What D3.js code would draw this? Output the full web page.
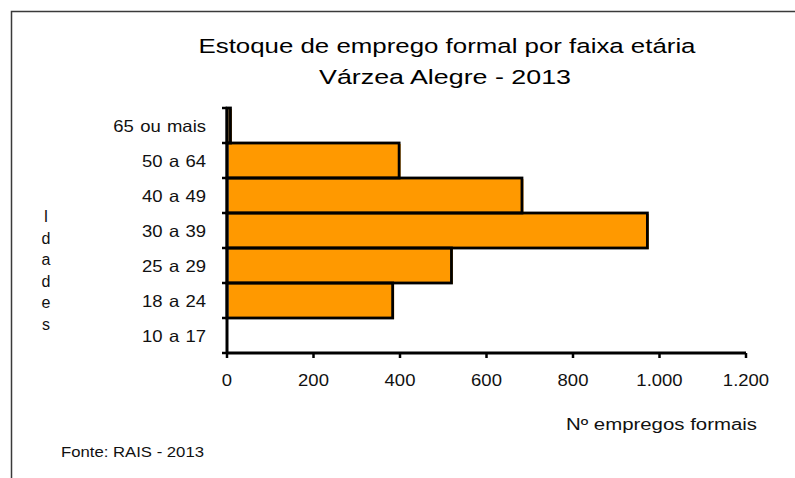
<!DOCTYPE html>
<html>
<head>
<meta charset="utf-8">
<script src="https://cdn.jsdelivr.net/npm/d3@7"></script>
<style>
  body { margin: 0; background: #fff; }
  svg { font-family: "Liberation Sans", Arial, sans-serif; }
</style>
</head>
<body>
<div id="chart"></div>
<script>
// faixas etárias, de cima para baixo
var faixas = ["65 ou mais", "50 a 64", "40 a 49", "30 a 39", "25 a 29", "18 a 24", "10 a 17"];
var empregos = [8, 398, 682, 972, 519, 383, 0];
var xTicks = [0, 200, 400, 600, 800, 1000, 1200];
var titulo = ["Estoque de emprego formal por faixa etária", "Várzea Alegre  - 2013"];
var eixoY = "Idades";
var eixoX = "Nº empregos formais";
var fonte = "Fonte: RAIS - 2013";

var width = 795, height = 478;
var plot = {left: 227, right: 746, top: 108, bottom: 353};

var svg = d3.select("#chart").append("svg")
    .attr("width", width)
    .attr("height", height);

// o texto do original é mais largo que a Liberation: estica na horizontal
function stretch(sel, k) {
    sel.each(function() {
        var w = this.getComputedTextLength();
        d3.select(this).attr("textLength", w * k).attr("lengthAdjust", "spacingAndGlyphs");
    });
}

// moldura (só topo e esquerda aparecem)
svg.append("path")
    .attr("d", "M11.5," + height + "V11.5H" + width)
    .attr("fill", "none")
    .attr("stroke", "#3a3a3a")
    .attr("stroke-width", 1.5);

var pt = d3.formatLocale({decimal: ",", thousands: ".", grouping: [3], currency: ["R$", ""]});
var fmt = pt.format(",.0f");

var x = d3.scaleLinear().domain([0, 1200]).range([plot.left, plot.right]);
var y = d3.scaleBand().domain(faixas).range([plot.top, plot.bottom]).padding(0);

var data = faixas.map(function(f, i) { return {faixa: f, valor: empregos[i]}; });
var comValor = data.filter(function(d) { return d.valor > 0; });

// barras: sombra laranja deslocada + contorno preto
var bars = svg.append("g").attr("class", "bars");
bars.selectAll(".fill").data(comValor).enter()
    .append("rect")
    .attr("class", "fill")
    .attr("x", x(0) + 1.5)
    .attr("y", function(d) { return y(d.faixa) + 1; })
    .attr("width", function(d) { return x(d.valor) - x(0); })
    .attr("height", y.bandwidth())
    .attr("fill", "#FF9900");
bars.selectAll(".edge").data(comValor).enter()
    .append("rect")
    .attr("class", "edge")
    .attr("x", x(0))
    .attr("y", function(d) { return y(d.faixa); })
    .attr("width", function(d) { return x(d.valor) - x(0); })
    .attr("height", y.bandwidth())
    .attr("fill", "none")
    .attr("stroke", "#000")
    .attr("stroke-width", 2.8);

// eixo Y: linha e ticks nas fronteiras das faixas
var yAxis = svg.append("g").attr("class", "y axis");
yAxis.append("line")
    .attr("x1", x(0)).attr("x2", x(0))
    .attr("y1", plot.top).attr("y2", plot.bottom)
    .attr("stroke", "#000").attr("stroke-width", 3);
var bounds = faixas.map(function(f) { return y(f); }).concat([plot.bottom]);
yAxis.selectAll(".tick").data(bounds).enter()
    .append("line")
    .attr("x1", x(0) - 5).attr("x2", x(0))
    .attr("y1", function(d) { return d; }).attr("y2", function(d) { return d; })
    .attr("stroke", "#000").attr("stroke-width", 2.5);
yAxis.selectAll(".lbl").data(faixas).enter()
    .append("text")
    .attr("x", 206)
    .attr("y", function(d) { return y(d) + y.bandwidth() / 2 + 6; })
    .attr("text-anchor", "end")
    .attr("font-size", 16.5)
    .attr("word-spacing", 1)
    .attr("fill", "#111")
    .text(function(d) { return d; })
    .call(stretch, 1.12);

// eixo X
var xAxis = svg.append("g").attr("class", "x axis");
xAxis.append("line")
    .attr("x1", x(0) - 1).attr("x2", x(1200))
    .attr("y1", plot.bottom).attr("y2", plot.bottom)
    .attr("stroke", "#000").attr("stroke-width", 3);
xAxis.selectAll(".tick").data(xTicks).enter()
    .append("line")
    .attr("x1", function(d) { return x(d); }).attr("x2", function(d) { return x(d); })
    .attr("y1", plot.bottom).attr("y2", plot.bottom + 5)
    .attr("stroke", "#000").attr("stroke-width", 2.5);
xAxis.selectAll(".lbl").data(xTicks).enter()
    .append("text")
    .attr("x", function(d) { return x(d); })
    .attr("y", 386)
    .attr("text-anchor", "middle")
    .attr("font-size", 16.5)
    .attr("fill", "#111")
    .text(function(d) { return fmt(d); })
    .call(stretch, 1.12);

// título
svg.append("text")
    .attr("x", 447).attr("y", 53)
    .attr("text-anchor", "middle")
    .attr("font-size", 20.5)
    .attr("textLength", 497).attr("lengthAdjust", "spacingAndGlyphs")
    .text(titulo[0]);
svg.append("text")
    .attr("x", 445).attr("y", 84)
    .attr("text-anchor", "middle")
    .attr("font-size", 20.5)
    .attr("textLength", 252).attr("lengthAdjust", "spacingAndGlyphs")
    .text(titulo[1]);

// rótulo vertical "Idades", uma letra por linha
svg.append("g").selectAll("text").data(eixoY.split("")).enter()
    .append("text")
    .attr("x", 46)
    .attr("y", function(d, i) { return 222 + i * 21.5; })
    .attr("text-anchor", "middle")
    .attr("font-size", 16)
    .attr("fill", "#111")
    .text(function(d) { return d; });

svg.append("text")
    .attr("x", 566).attr("y", 430)
    .attr("font-size", 16)
    .attr("textLength", 191).attr("lengthAdjust", "spacingAndGlyphs")
    .attr("fill", "#111")
    .text(eixoX);

svg.append("text")
    .attr("x", 61).attr("y", 457)
    .attr("font-size", 14.5)
    .attr("textLength", 143).attr("lengthAdjust", "spacingAndGlyphs")
    .attr("fill", "#111")
    .text(fonte);
</script>
</body>
</html>
